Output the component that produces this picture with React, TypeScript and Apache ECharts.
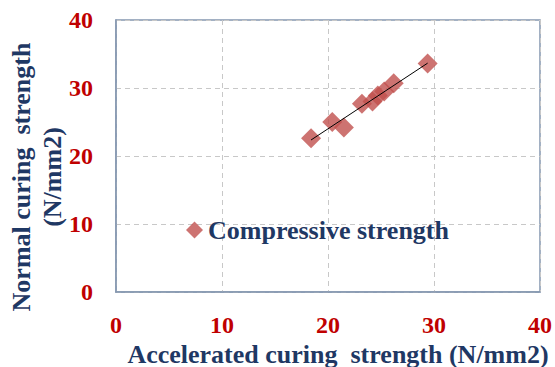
import React, { useEffect, useRef } from "react";
import * as echarts from "echarts";

const accelerated: number[] = [18.4, 20.4, 21.5, 23.2, 24.2, 24.7, 25.3, 26.2, 29.4];
const normal: number[] = [22.6, 25.0, 24.2, 27.7, 28.0, 28.9, 29.5, 30.7, 33.6];
const ticks: number[] = [0, 10, 20, 30, 40];
const seriesName = "Compressive strength";
const xTitle = "Accelerated curing  strength (N/mm2)";
const yTitle = "Normal curing  strength\n(N/mm2)";

function fitLine(xs: number[], ys: number[]): number[][] {
  const n = xs.length;
  const mx = xs.reduce((a, b) => a + b, 0) / n;
  const my = ys.reduce((a, b) => a + b, 0) / n;
  let sxy = 0, sxx = 0;
  for (let i = 0; i < n; i++) {
    sxy += (xs[i] - mx) * (ys[i] - my);
    sxx += (xs[i] - mx) * (xs[i] - mx);
  }
  const b = sxy / sxx;
  const a = my - b * mx;
  const x0 = Math.min(...xs), x1 = Math.max(...xs);
  return [[x0, a + b * x0], [x1, a + b * x1]];
}

const FONT = "'Liberation Serif', 'Times New Roman', serif";
const NAVY = "#1F3864";
const RED = "#C00000";

export default function App() {
  const ref = useRef<HTMLDivElement>(null);
  useEffect(() => {
    document.body.style.margin = "0";
    document.body.style.overflow = "hidden";
    if (!ref.current) return;
    const chart = echarts.init(ref.current, undefined, { renderer: "svg" });
    const points = accelerated.map((x, i) => [x, normal[i]]);
    chart.setOption({
      animation: false,
      backgroundColor: "#ffffff",
      grid: {
        left: 116,
        right: 12,
        top: 20,
        bottom: 75,
        show: true,
        borderColor: "#8497B0",
        borderWidth: 1.5,
      },
      legend: {
        data: [{ name: seriesName, icon: "diamond" }],
        left: 186,
        top: 217,
        padding: 0,
        itemWidth: 17,
        itemHeight: 17,
        itemGap: 0,
        textStyle: { fontFamily: FONT, fontWeight: "bold", fontSize: 26, color: NAVY },
      },
      xAxis: {
        type: "value",
        min: ticks[0],
        max: ticks[ticks.length - 1],
        interval: 10,
        axisLine: { show: true, lineStyle: { color: "#8497B0", width: 1.5 } },
        axisTick: { show: false },
        splitLine: { show: true, lineStyle: { color: "#C8C8C8", type: [5, 4], width: 1 } },
        axisLabel: { margin: 21, fontFamily: FONT, fontWeight: "bold", fontSize: 24, color: RED },
      },
      yAxis: {
        type: "value",
        min: ticks[0],
        max: ticks[ticks.length - 1],
        interval: 10,
        axisLine: { show: true, lineStyle: { color: "#8497B0", width: 1.5 } },
        axisTick: { show: false },
        splitLine: { show: true, lineStyle: { color: "#C8C8C8", type: [5, 4], width: 1 } },
        axisLabel: { margin: 23, fontFamily: FONT, fontWeight: "bold", fontSize: 24, color: RED },
      },
      graphic: [
        {
          type: "text",
          x: 338,
          y: 354,
          style: {
            text: xTitle,
            fontFamily: FONT,
            fontWeight: "bold",
            fontSize: 26,
            fill: NAVY,
            align: "center",
            verticalAlign: "middle",
          },
        },
        {
          type: "text",
          x: 37,
          y: 177,
          rotation: Math.PI / 2,
          style: {
            text: yTitle,
            fontFamily: FONT,
            fontWeight: "bold",
            fontSize: 26,
            lineHeight: 31,
            fill: NAVY,
            align: "center",
            verticalAlign: "middle",
          },
        },
      ],
      series: [
        {
          name: seriesName,
          type: "scatter",
          symbol: "diamond",
          symbolSize: 20,
          itemStyle: { color: "#C0504D" },
          data: points,
          z: 2,
        },
        {
          name: "trend",
          type: "line",
          data: fitLine(accelerated, normal),
          symbol: "none",
          lineStyle: { color: "#000000", width: 1 },
          z: 3,
        },
      ],
    });
    return () => chart.dispose();
  }, []);
  return <div ref={ref} style={{ width: 555, height: 367 }} />;
}
